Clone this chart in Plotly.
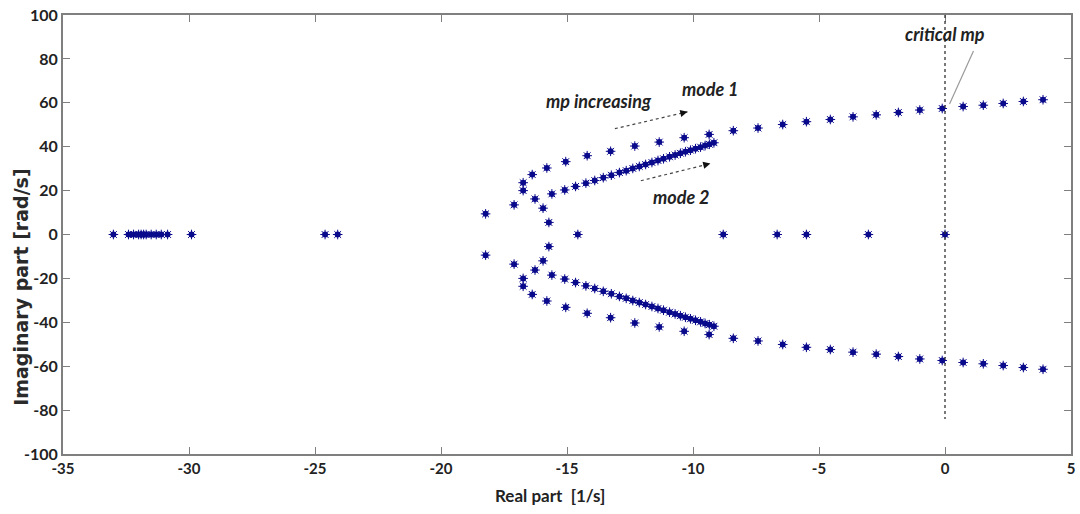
import numpy as np
import plotly.graph_objects as go

# Closed-loop poles in the upper half plane (real part [1/s], imaginary part [rad/s]).
# Mode 1: outer branch of the root locus
mode1_re = [-18.23, -17.10, -16.74, -16.74, -16.38, -15.80, -15.05, -14.20, -13.27,
            -12.31, -11.34, -10.35, -9.36, -8.40, -7.42, -6.44, -5.50, -4.55,
            -3.65, -2.73, -1.85, -1.00, -0.11, 0.72, 1.52, 2.31, 3.11, 3.89]
mode1_im = [9.4, 13.5, 20.0, 23.6, 27.3, 30.3, 33.2, 35.9, 37.9,
            40.3, 42.1, 44.1, 45.6, 47.3, 48.5, 50.1, 51.4, 52.4,
            53.6, 54.5, 55.6, 56.7, 57.4, 58.3, 58.9, 59.7, 60.6, 61.4]

# Mode 2: inner branch
mode2_re = [-15.72, -15.95, -16.27, -15.60, -15.09, -14.66, -14.25, -13.90, -13.56,
            -13.24, -12.92, -12.65, -12.39, -12.13, -11.88, -11.63, -11.39, -11.17,
            -10.93, -10.71, -10.50, -10.30, -10.10, -9.90, -9.70, -9.52, -9.35, -9.17]
mode2_im = [5.5, 12.0, 16.2, 18.5, 20.3, 21.9, 23.4, 24.6, 25.9,
            27.0, 28.2, 29.1, 30.1, 31.0, 31.9, 32.8, 33.7, 34.5,
            35.4, 36.2, 37.0, 37.7, 38.4, 39.1, 39.8, 40.5, 41.1, 41.8]

# Real poles
real_poles = [-33.0, -32.4, -32.2, -32.0, -31.9, -31.8, -31.7, -31.5, -31.3, -31.1,
              -30.85, -29.9, -24.6, -24.1, -14.57, -8.8, -6.66, -5.5, -3.04, 0.0]

x_ticks = list(range(-35, 6, 5))
y_ticks = list(range(-100, 101, 20))
x_ticktext = [str(v) for v in x_ticks]
y_ticktext = [str(v) for v in y_ticks]

POLE_COLOR = "#0a0a8c"
TEXT_COLOR = "#222222"

# complex poles come in conjugate pairs
cplx_re = np.array(mode1_re + mode2_re)
cplx_im = np.array(mode1_im + mode2_im)
all_re = np.concatenate([cplx_re, cplx_re, np.array(real_poles)])
all_im = np.concatenate([cplx_im, -cplx_im, np.zeros(len(real_poles))])

fig = go.Figure()
fig.add_trace(go.Scatter(
    x=all_re, y=all_im, mode="markers",
    marker=dict(symbol="circle", size=6, color=POLE_COLOR, line=dict(width=0)),
    showlegend=False, hoverinfo="x+y",
))
fig.add_trace(go.Scatter(
    x=all_re, y=all_im, mode="markers",
    marker=dict(symbol="asterisk-open", size=8, color=POLE_COLOR,
                line=dict(width=1, color=POLE_COLOR)),
    showlegend=False, hoverinfo="skip",
))

# stability boundary marker at the critical parameter
fig.add_shape(type="line", x0=0, x1=0, y0=100, y1=-84, xref="x", yref="y",
              line=dict(color="#333333", width=1.3, dash="dot"))

ann_font = dict(family="Lato", size=18, color=TEXT_COLOR, weight=700, style="italic")
fig.add_annotation(x=-13.73, y=60.9, text="mp increasing", showarrow=False, font=ann_font)
fig.add_annotation(x=-9.31, y=66.4, text="mode 1", showarrow=False, font=ann_font)
fig.add_annotation(x=-10.45, y=17.3, text="mode 2", showarrow=False, font=ann_font)
fig.add_annotation(x=0.0, y=91.4, text="critical mp", showarrow=False, font=ann_font)

arrows = [
    ((-13.10, 48.2), (-10.22, 55.9), "dot", "#444444"),
    ((-12.07, 24.5), (-9.31, 32.3), "dot", "#444444"),
    ((1.13, 83.6), (0.18, 59.5), "solid", "#9a9a9a"),
]
for (xs, ys), (xe, ye), dash, col in arrows:
    fig.add_shape(type="line", x0=xs, y0=ys, x1=xe, y1=ye, xref="x", yref="y",
                  line=dict(color=col, width=1.2, dash=dash))
    fig.add_annotation(x=xe, y=ye, ax=xe - (xe - xs) * 0.05, ay=ye - (ye - ys) * 0.05,
                       xref="x", yref="y", axref="x", ayref="y", text="",
                       showarrow=True, arrowhead=2, arrowsize=1.2, arrowwidth=1.2,
                       arrowcolor="#111111")

# axis titles
fig.add_annotation(x=0.483, y=-0.095, xref="paper", yref="paper",
                   text="Real part  [1/s]", showarrow=False,
                   xanchor="center", yanchor="middle",
                   font=dict(family="Lato", size=17, color=TEXT_COLOR, weight=700))
fig.add_annotation(x=-0.041, y=0.38, xref="paper", yref="paper",
                   text="Imaginary part [rad/s]", showarrow=False, textangle=-90,
                   xanchor="center", yanchor="middle",
                   font=dict(family="DejaVu Sans", size=19, color="#2a2a2a", weight=700))

axis_common = dict(
    showline=True, linecolor="#7f7f7f", linewidth=2, mirror="ticks",
    ticks="inside", ticklen=7, tickwidth=1, tickcolor="#7f7f7f",
    showgrid=False, zeroline=False,
)

fig.update_xaxes(range=[-35, 5], tickvals=x_ticks, ticktext=x_ticktext,
                 tickfont=dict(family="Lato", size=15, color=TEXT_COLOR, weight=700),
                 **axis_common)
fig.update_yaxes(range=[-100, 100], tickvals=y_ticks, ticktext=y_ticktext,
                 tickfont=dict(family="Lato", size=16, color=TEXT_COLOR, weight=700),
                 **axis_common)

fig.update_layout(
    width=1080, height=514,
    margin=dict(l=63, r=5, t=14, b=60),
    plot_bgcolor="white", paper_bgcolor="white",
)

fig.write_html("out.html")
